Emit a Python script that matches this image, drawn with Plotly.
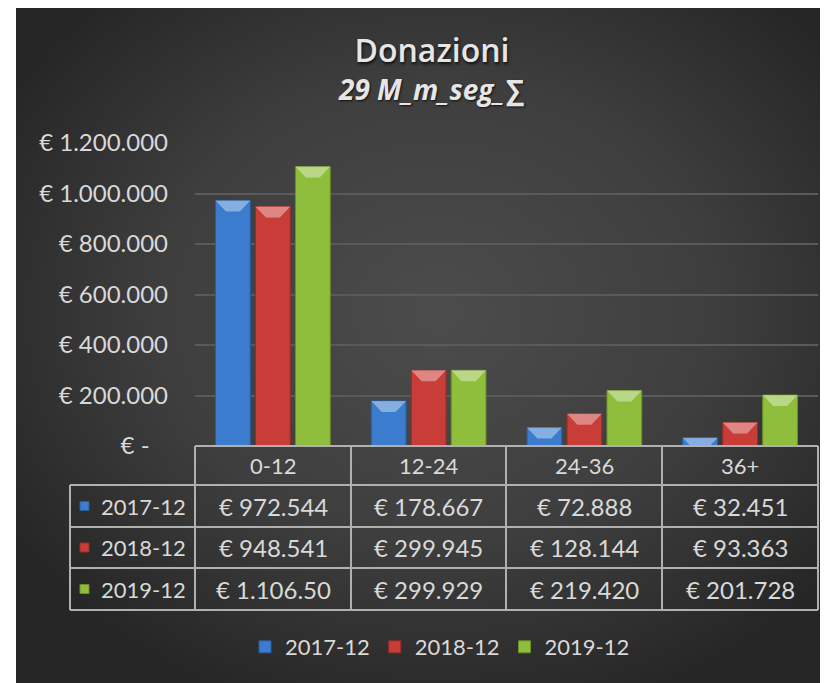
import base64
import plotly.graph_objects as go

# ---------------- data ----------------
categories = ["0-12", "12-24", "24-36", "36+"]
series_names = ["2017-12", "2018-12", "2019-12"]
values_2017 = [972544, 178667, 72888, 32451]
values_2018 = [948541, 299945, 128144, 93363]
values_2019 = [1106500, 299929, 219420, 201728]
y_ticks = [0, 200000, 400000, 600000, 800000, 1000000, 1200000]
title_text = "Donazioni"
subtitle_text = "29 M_m_seg_∑"

series_values = [values_2017, values_2018, values_2019]
colors = ["#3b7ccf", "#c93d38", "#8fbe3c"]
edge_colors = ["#2b5c9c", "#992c28", "#6a8f2b"]

FONT = "Lato, 'Open Sans', sans-serif"
TFONT = "'Open Sans', Lato, sans-serif"
TXT = "#d9d9d9"
OFF = 8                     # page body margin
W, H = 828 - OFF, 683 - OFF  # figure size
# plot area in page pixels
PL, PR, PT, PB = 195, 818, 143, 446
YMAX = 1200000
BARGAP, GROUPGAP = 0.23, 0.13


def eur(v):
    if v == 0:
        return "€ -\u00a0\u00a0\u00a0"
    s = f"{int(round(v)):,}".replace(",", ".")
    return "€ " + s


def cell(v):
    # Excel clips text to the cell width
    return eur(v)[:10]


def px(x):
    return (x - PL) / (PR - PL)


def py(y):
    return (PB - y) / (PB - PT)


fig = go.Figure()
for name, vals, c, ec in zip(series_names, series_values, colors, edge_colors):
    fig.add_trace(go.Bar(
        x=categories, y=vals, name=name,
        marker=dict(color=c, line=dict(color=ec, width=1)),
        hoverinfo="x+y+name",
    ))

# background radial gradient (chart area)
svg = (
    "<svg xmlns='http://www.w3.org/2000/svg' width='812' height='675' viewBox='0 0 812 675' preserveAspectRatio='none'>"
    "<defs><radialGradient id='g' cx='52%' cy='45%' r='62%'>"
    "<stop offset='0' stop-color='#4c4c4c'/><stop offset='0.55' stop-color='#3e3e3e'/>"
    "<stop offset='1' stop-color='#262626'/></radialGradient></defs>"
    "<rect x='0' y='0' width='812' height='675' fill='url(#g)'/></svg>"
)
src = "data:image/svg+xml;base64," + base64.b64encode(svg.encode()).decode()

shapes = []
annotations = []

# bevel highlight on top of each bar (derived from the data values)
n_ser = len(series_values)
slot = (1 - BARGAP) / n_ser
bw = slot * (1 - GROUPGAP)
bev_h = 11 * YMAX / (PB - PT)
for k, (vals, c) in enumerate(zip(series_values, colors)):
    for i, v in enumerate(vals):
        xc = i + (k - (n_ser - 1) / 2) * slot
        x0, x1 = xc - bw / 2, xc + bw / 2
        h = min(bev_h, v)
        ins = bw * 0.3 * h / bev_h
        path = (f"M{x0},{v} L{x1},{v} L{x1 - ins},{v - h} L{x0 + ins},{v - h} Z")
        shapes.append(dict(type="path", xref="x", yref="y", path=path,
                           fillcolor="rgba(255,255,255,0.38)", line=dict(width=0), layer="above"))

line_col = "#b0b0b0"
lw = 2
col_x = [195, 351, 506, 662, 818]
row_y = [446, 485, 527, 568, 610]
shapes.append(dict(type="line", xref="paper", yref="paper", x0=px(195), x1=px(818),
                   y0=py(446), y1=py(446), line=dict(color=line_col, width=lw)))
for yy in row_y[1:]:
    shapes.append(dict(type="line", xref="paper", yref="paper", x0=px(70), x1=px(818),
                       y0=py(yy), y1=py(yy), line=dict(color=line_col, width=lw)))
shapes.append(dict(type="line", xref="paper", yref="paper", x0=px(70), x1=px(70),
                   y0=py(485), y1=py(610), line=dict(color=line_col, width=lw)))
for xx in col_x:
    shapes.append(dict(type="line", xref="paper", yref="paper", x0=px(xx), x1=px(xx),
                       y0=py(446), y1=py(610), line=dict(color=line_col, width=lw)))

TS = 22
VS = 24
for i, cat in enumerate(categories):
    annotations.append(dict(xref="paper", yref="paper", x=px((col_x[i] + col_x[i + 1]) / 2),
                            y=py((row_y[0] + row_y[1]) / 2), xanchor="center", yanchor="middle",
                            text=cat, showarrow=False, font=dict(family=FONT, size=TS, color=TXT)))
for r, (name, vals, c, ec) in enumerate(zip(series_names, series_values, colors, edge_colors)):
    yc = (row_y[r + 1] + row_y[r + 2]) / 2
    shapes.append(dict(type="rect", xref="paper", yref="paper", x0=px(80), x1=px(89),
                       y0=py(yc - 4.5), y1=py(yc + 4.5), fillcolor=c, line=dict(color=ec, width=1)))
    annotations.append(dict(xref="paper", yref="paper", x=px(99), y=py(yc), xanchor="left",
                            yanchor="middle", text=name, showarrow=False,
                            font=dict(family=FONT, size=TS, color=TXT)))
    for i, v in enumerate(vals):
        annotations.append(dict(xref="paper", yref="paper", x=px((col_x[i] + col_x[i + 1]) / 2),
                                y=py(yc), xanchor="center", yanchor="middle", text=cell(v),
                                showarrow=False, font=dict(family=FONT, size=VS, color=TXT)))

# subtitle
annotations.append(dict(xref="paper", yref="paper", x=px(431), y=py(89), xanchor="center",
                        yanchor="middle", text="<b><i>" + subtitle_text + "</i></b>", showarrow=False,
                        font=dict(family=TFONT, size=28, color="#e6e6e6",
                                  shadow="1px 1px 2px #111")))

fig.update_layout(
    width=W, height=H,
    margin=dict(l=PL - OFF, r=W - (PR - OFF), t=PT - OFF, b=H - (PB - OFF), pad=0),
    paper_bgcolor="white", plot_bgcolor="rgba(0,0,0,0)",
    barmode="group", bargap=BARGAP, bargroupgap=GROUPGAP,
    font=dict(family=FONT, color=TXT, size=20),
    title=dict(text=title_text, x=(432 - OFF) / W, xanchor="center", y=1 - (51 - OFF) / H,
               yanchor="middle", xref="container", yref="container",
               font=dict(family=TFONT, size=32, color="#e6e6e6", weight=600,
                         shadow="1px 2px 3px #111")),
    xaxis=dict(showticklabels=False, showgrid=False, zeroline=False, showline=False,
               ticks=""),
    yaxis=dict(range=[0, YMAX], tickvals=y_ticks, ticktext=[eur(v) for v in y_ticks],
               showgrid=True, gridcolor="#5a5a5a", gridwidth=1.5, zeroline=False,
               showline=False, ticks="", ticklabelstandoff=26,
               tickfont=dict(family=FONT, size=24, color=TXT)),
    legend=dict(orientation="h", x=px(440), xanchor="center", y=py(647), yanchor="middle",
                font=dict(family=FONT, size=22, color=TXT), bgcolor="rgba(0,0,0,0)",
                itemclick=False, traceorder="normal"),
    shapes=shapes, annotations=annotations,
    images=[dict(source=src, xref="paper", yref="paper", x=px(16), y=py(8),
                 sizex=px(828) - px(16), sizey=py(8) - py(683), xanchor="left", yanchor="top",
                 sizing="stretch", layer="below")],
    showlegend=True,
)

fig.write_html("out.html")
